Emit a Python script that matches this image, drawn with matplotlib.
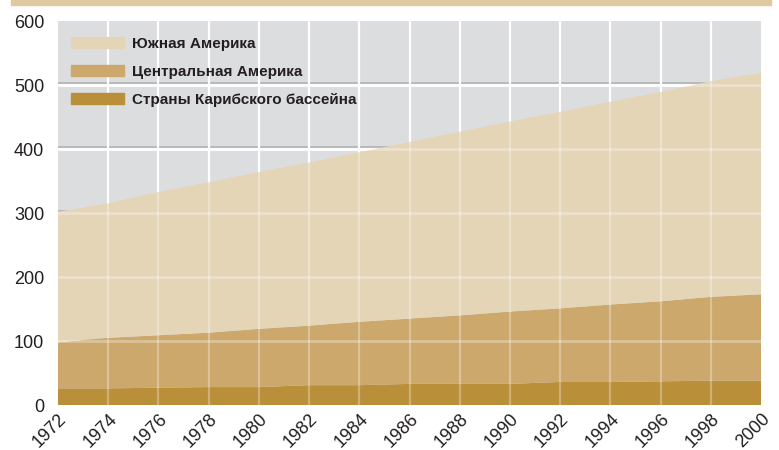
import numpy as np
import matplotlib.pyplot as plt
from matplotlib.patches import Patch, Rectangle

plt.rcParams['font.family'] = ['Liberation Sans', 'DejaVu Sans']

years = np.arange(1972, 2001, 2)
# values (stacked areas)
caribbean = [26, 26, 27, 28, 28, 31, 31, 33, 33, 33, 36, 36, 37, 38, 38]
central_top = [98, 105, 109, 113, 119, 124, 130, 135, 140, 146, 151, 157, 162, 169, 173]
total = [302, 315, 333, 348, 364, 379, 395, 411, 427, 443, 458, 474, 489, 506, 519]

central = [c - b for c, b in zip(central_top, caribbean)]
south = [t - c for t, c in zip(total, central_top)]

labels = ['Южная Америка', 'Центральная Америка', 'Страны Карибского бассейна']
colors = ['#E5D5B7', '#CDA86C', '#BA8F3A']

fig = plt.figure(figsize=(7.79, 4.5), dpi=100)
ax = fig.add_axes([0.0745, 0.1, 0.9025, 0.8533])
ax.set_facecolor('#DCDDDF')

# grid under the areas
for v in range(100, 600, 100):
    ax.axhline(v + 3.5, color='#B5B6B8', lw=1.3, zorder=0.5)
    ax.axhline(v, color='white', lw=2, zorder=0.6)
for yr in years[1:-1]:
    ax.axvline(yr, color='white', lw=1.6, zorder=0.6)

ax.stackplot(years, caribbean, central, south, colors=colors[::-1], zorder=1)

# faint grid over the areas
for v in range(100, 600, 100):
    ax.axhline(v, color='white', lw=2, alpha=0.3, zorder=2)
for yr in years[1:-1]:
    ax.axvline(yr, color='white', lw=1.6, alpha=0.3, zorder=2)

ax.set_xlim(1972, 2000)
ax.set_ylim(0, 600)
ax.set_xticks(years)
ax.set_yticks(range(0, 601, 100))
ax.tick_params(length=0, labelsize=13, colors='#231F20')
ax.tick_params(axis='y', pad=10)
ax.tick_params(axis='x', pad=4)
for lab in ax.get_xticklabels():
    lab.set_rotation(45)
    lab.set_ha('right')
    lab.set_rotation_mode('anchor')
for s in ax.spines.values():
    s.set_visible(False)

handles = [Patch(color=c, label=l) for c, l in zip(colors, labels)]
leg = ax.legend(handles=handles, loc='upper left', bbox_to_anchor=(0.0, 0.992),
                frameon=False, handlelength=3.47, handleheight=0.72,
                handletextpad=0.52, labelspacing=0.9, borderaxespad=0.45,
                prop={'family': ['Liberation Sans Narrow', 'Liberation Sans'],
                      'weight': 'bold', 'size': 11})
for t in leg.get_texts():
    t.set_color('#231F20')

fig.patches.append(Rectangle((11 / 779, 1 - 5 / 450), 760 / 779, 5 / 450,
                             transform=fig.transFigure, color='#E0C8A0'))

fig.savefig('out.png', dpi=100)
